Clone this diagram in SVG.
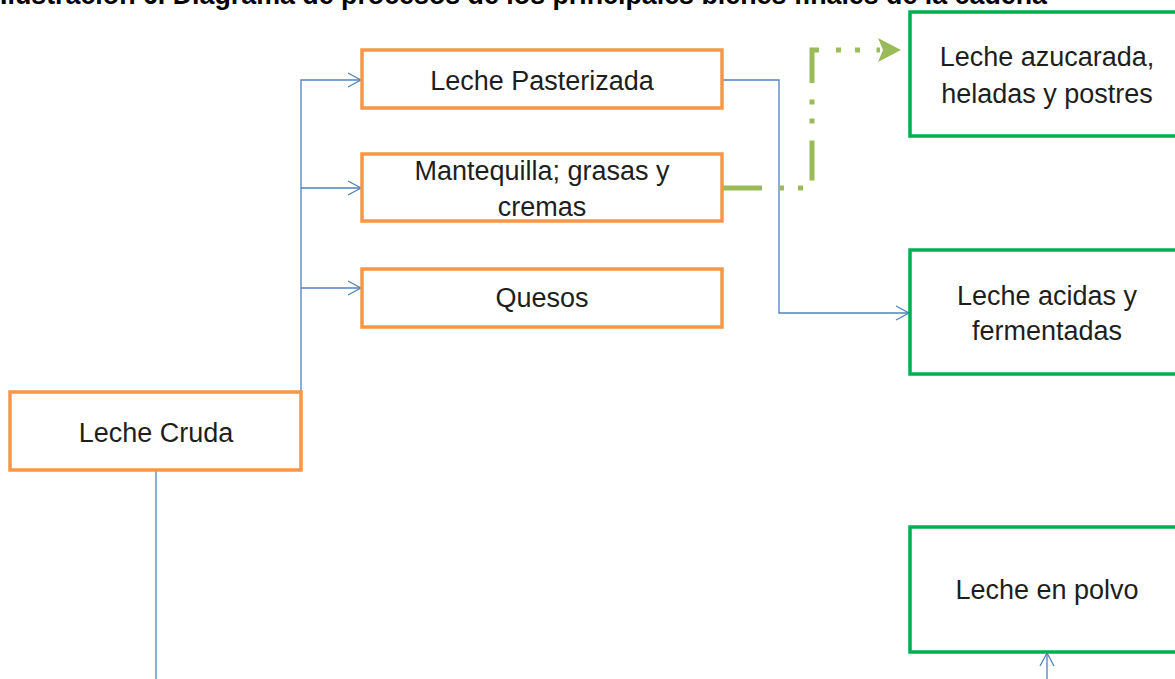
<svg xmlns="http://www.w3.org/2000/svg" width="1175" height="679" viewBox="0 0 1175 679">
<style>
.title{font-family:"Liberation Sans",Arial,sans-serif;font-weight:bold;font-size:26.8px;fill:#000}
.lbl{font-family:"Liberation Sans",Arial,sans-serif;font-size:27px;fill:#1e1e1e;text-anchor:middle}
.orange{fill:#fff;stroke:#F79646;stroke-width:3.5}
.green{fill:#fff;stroke:#00B050;stroke-width:3.5}
.blue{fill:none;stroke:#4F81BD;stroke-width:1.3}
.olive{fill:none;stroke:#9BBB59;stroke-width:5;stroke-dasharray:40 17 5 14 5 16.5}
</style>
<defs>
<marker id="vArrow" markerUnits="userSpaceOnUse" markerWidth="20" markerHeight="20" viewBox="-15 -10 20 20" refX="0" refY="0" orient="auto" overflow="visible">
<path d="M-13,-7 L0,0 L-13,7" fill="none" stroke="#4F81BD" stroke-width="1.3"/>
</marker>
<marker id="gArrow" markerUnits="userSpaceOnUse" markerWidth="30" markerHeight="30" viewBox="0 0 30 30" refX="2" refY="12" orient="auto" overflow="visible">
<path d="M0,0 L23,12 L0,24 L5,12 Z" fill="#9BBB59"/>
</marker>
</defs>
<text class="title" x="0" y="4">Ilustración 6. Diagrama de procesos de los principales bienes finales de la cadena</text>
<g id="connectors">
<path class="blue" d="M301,392 V80 H361" marker-end="url(#vArrow)"/>
<path class="blue" d="M301,188 H361" marker-end="url(#vArrow)"/>
<path class="blue" d="M301,288 H361" marker-end="url(#vArrow)"/>
<path class="blue" d="M156,470 V679"/>
<path class="blue" d="M722,80 H779 V313 H909" marker-end="url(#vArrow)"/>
<path class="blue" d="M1047,679 V653" marker-end="url(#vArrow)"/>
<path class="olive" d="M722,188 H812 V50 H880" marker-end="url(#gArrow)"/>
</g>
<g id="leche-cruda">
<rect class="orange" x="10" y="392" width="291" height="78"/>
<text class="lbl" x="156" y="442">Leche Cruda</text>
</g>
<g id="leche-pasterizada">
<rect class="orange" x="362" y="50" width="360" height="58"/>
<text class="lbl" x="542" y="90">Leche Pasterizada</text>
</g>
<g id="mantequilla">
<rect class="orange" x="362" y="154" width="360" height="67"/>
<text class="lbl" x="542" y="180">Mantequilla; grasas y</text>
<text class="lbl" x="542" y="216">cremas</text>
</g>
<g id="quesos">
<rect class="orange" x="362" y="269" width="360" height="58"/>
<text class="lbl" x="542" y="307">Quesos</text>
</g>
<g id="leche-azucarada">
<rect class="green" x="910" y="12" width="300" height="124"/>
<text class="lbl" x="1047" y="66">Leche azucarada,</text>
<text class="lbl" x="1047" y="103">heladas y postres</text>
</g>
<g id="leche-acidas">
<rect class="green" x="910" y="250" width="300" height="124"/>
<text class="lbl" x="1047" y="305">Leche acidas y</text>
<text class="lbl" x="1047" y="340">fermentadas</text>
</g>
<g id="leche-polvo">
<rect class="green" x="910" y="527" width="300" height="125"/>
<text class="lbl" x="1047" y="599">Leche en polvo</text>
</g>
</svg>
